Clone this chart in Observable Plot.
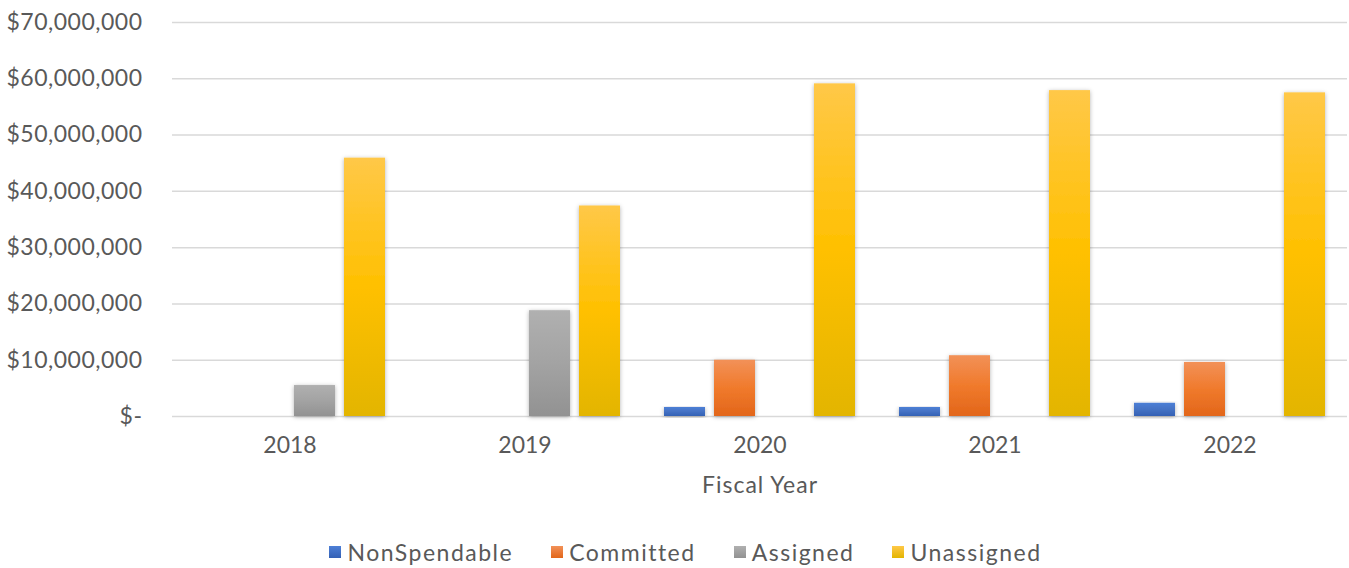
<!DOCTYPE html>
<html>
<head>
<meta charset="utf-8">
<script src="https://cdn.jsdelivr.net/npm/d3@7"></script>
<script src="https://cdn.jsdelivr.net/npm/@observablehq/plot@0.6"></script>
<style>
  html, body { margin: 0; padding: 0; background: #fff; }
  body { width: 1349px; height: 568px; overflow: hidden; position: relative; font-family: Lato, "Open Sans", sans-serif; }
  #chart svg g[aria-label="bar"] rect { filter: url(#barShadow); }
  #chart svg g[aria-label="y-axis tick label"] text { letter-spacing: 0.5px; }
  #chart svg g[aria-label="fx-axis label"] text, #chart svg g[aria-label="fx-axis label"] { letter-spacing: 1px; }
  #legend { position: absolute; left: 0; top: 540px; width: 1349px; display: flex; justify-content: center; gap: 38px; padding-left: 22px; box-sizing: border-box; font-size: 23px; letter-spacing: 1.5px; color: #595959; line-height: 24px; }
  #legend .item { display: flex; align-items: center; }
  #legend .sw { width: 12px; height: 12px; margin-right: 6px; }
</style>
</head>
<body>
<div id="chart"></div>
<div id="legend"></div>
<script>
const years = ["2018", "2019", "2020", "2021", "2022"];
const series = ["NonSpendable", "Committed", "Assigned", "Unassigned"];
const nonSpendable = [0, 0, 1600000, 1600000, 2350000];
const committed = [0, 0, 10000000, 10800000, 9600000];
const assigned = [5500000, 18800000, 0, 0, 0];
const unassigned = [45900000, 37400000, 59100000, 57900000, 57500000];
const yTicks = [0, 10000000, 20000000, 30000000, 40000000, 50000000, 60000000, 70000000];
const colorTop = ["#4D7FD6", "#F29158", "#B0B0B0", "#FFC848"];
const colorMid = ["#4472C4", "#F07A2C", "#A3A3A3", "#FFC000"];
const colorBot = ["#3461B5", "#E2661A", "#929292", "#E3B500"];

const valuesBySeries = [nonSpendable, committed, assigned, unassigned];
const data = [];
years.forEach((y, i) => series.forEach((s, j) => data.push({year: y, series: s, value: valuesBySeries[j][i]})));

const fmt = d3.format(",");
const chart = Plot.plot({
  width: 1349,
  height: 520,
  marginLeft: 170,
  marginRight: 0,
  marginTop: 22,
  marginBottom: 104,
  style: {fontSize: "23px", fontFamily: "Lato, 'Open Sans', sans-serif", color: "#595959", background: "#fff"},
  fx: {domain: years, padding: 0, label: "Fiscal Year", labelAnchor: "center", labelOffset: 76, tickSize: 0, tickPadding: 20, axis: "bottom"},
  x: {domain: series, paddingInner: 0.176, paddingOuter: 0.4, axis: null},
  y: {domain: [0, 70000000], ticks: yTicks, tickSize: 0, tickPadding: 30, label: null,
      tickFormat: d => d === 0 ? "$-" : "$" + fmt(d)},
  color: {domain: series, range: series.map((s, i) => `url(#grad${i})`)},
  marks: [
    Plot.gridY(yTicks, {stroke: "#D9D9D9", strokeOpacity: 1, strokeWidth: 1.5}),
    Plot.barY(data, {fx: "year", x: "series", y: "value", fill: "series"})
  ]
});

const defs = d3.select(chart).insert("defs", ":first-child");
series.forEach((s, i) => {
  const g = defs.append("linearGradient").attr("id", `grad${i}`).attr("x1", 0).attr("y1", 0).attr("x2", 0).attr("y2", 1);
  g.append("stop").attr("offset", "0%").attr("stop-color", colorTop[i]);
  g.append("stop").attr("offset", "50%").attr("stop-color", colorMid[i]);
  g.append("stop").attr("offset", "100%").attr("stop-color", colorBot[i]);
});
const f = defs.append("filter").attr("id", "barShadow").attr("x", "-30%").attr("y", "-10%").attr("width", "160%").attr("height", "130%");
f.append("feDropShadow").attr("dx", 0).attr("dy", 1).attr("stdDeviation", 2).attr("flood-color", "#000").attr("flood-opacity", 0.3);

document.getElementById("chart").appendChild(chart);

const legend = d3.select("#legend");
series.forEach((s, i) => {
  const item = legend.append("div").attr("class", "item");
  item.append("div").attr("class", "sw").style("background", `linear-gradient(${colorTop[i]}, ${colorBot[i]})`);
  item.append("span").text(s);
});
</script>
</body>
</html>
